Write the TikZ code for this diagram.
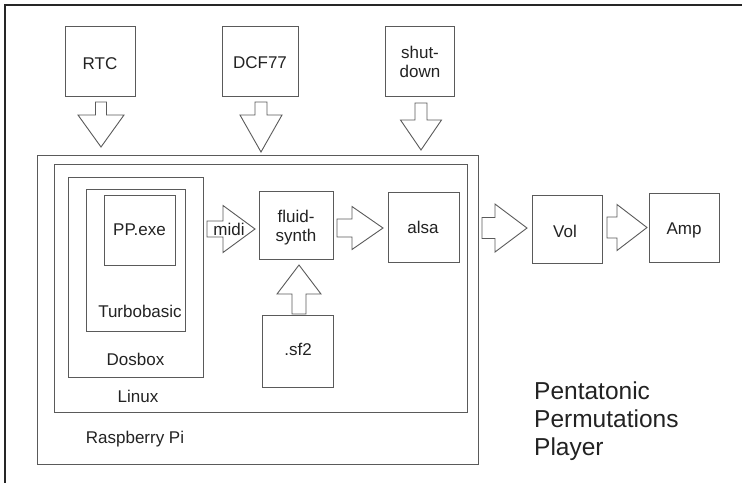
\documentclass[tikz,border=0pt]{standalone}
\usepackage{fontspec}
\setmainfont{Liberation Sans}
\definecolor{ln}{HTML}{5A5A5A}
\definecolor{tx}{HTML}{222222}
\tikzset{
  box/.style={draw=ln, line width=1pt, inner sep=0pt},
  lbl/.style={text=tx, inner sep=0pt, font=\fontsize{17}{19}\selectfont},
  blk/.style={draw=ln, line width=0.9pt, fill=white, line join=miter},
  frame/.style={draw=black!85, line width=1.5pt}
}
\newcommand{\rblk}[6]{\draw[blk] (#1,#4-#5) -- (#2,#4-#5) -- (#2,#4-#6) -- (#3,#4) -- (#2,#4+#6) -- (#2,#4+#5) -- (#1,#4+#5) -- cycle;}
\newcommand{\vblk}[6]{\draw[blk] (#1-#5,#2) -- (#1-#5,#3) -- (#1-#6,#3) -- (#1,#4) -- (#1+#6,#3) -- (#1+#5,#3) -- (#1+#5,#2) -- cycle;}
\begin{document}
\begin{tikzpicture}[x=1pt,y=-1pt]
\useasboundingbox (0,0) rectangle (742,483);
% outer frame (top and left only)
\draw[frame] (742,5) -- (5,5) -- (5,483);
% boxes
\node[box, minimum width=70pt, minimum height=70pt] (rtc) at (100,61) {};
\node[box, minimum width=76pt, minimum height=70pt] (dcf) at (260,61) {};
\node[box, minimum width=69pt, minimum height=70pt] (shut) at (419.5,61) {};
\node[box, minimum width=441pt, minimum height=309pt] (rpi) at (257.5,309.5) {};
\node[box, minimum width=413pt, minimum height=248pt] (linux) at (260.5,288) {};
\node[box, minimum width=135pt, minimum height=200pt] (dosbox) at (135.5,277) {};
\node[box, minimum width=99pt, minimum height=142pt] (turbo) at (135.5,260) {};
\node[box, minimum width=71pt, minimum height=70pt] (pp) at (139.5,230) {};
\node[box, minimum width=74pt, minimum height=68pt] (fluid) at (296,225) {};
\node[box, minimum width=71pt, minimum height=72pt] (sf2) at (297.5,351) {};
\node[box, minimum width=71pt, minimum height=70pt] (alsa) at (423.5,227) {};
\node[box, minimum width=70pt, minimum height=68pt] (vol) at (567,229) {};
\node[box, minimum width=70pt, minimum height=69pt] (amp) at (684,227.5) {};
% block arrows
\vblk{101}{102}{115}{147}{5.5}{23}
\vblk{261}{102}{115}{152}{6}{21}
\vblk{421}{103}{120}{150}{6}{20.5}
\vblk{299}{314}{294}{265}{7}{22}
\rblk{207}{223}{255}{229}{8}{23.5}
\rblk{337}{352}{383}{228}{9}{21.5}
\rblk{482}{495}{527}{228}{10.5}{24}
\rblk{607}{617}{647}{227.5}{10.5}{23}
% labels
\node[lbl, anchor=base] (tRTC) at (100,69) {RTC};
\node[lbl, anchor=base] (tDCF) at (260,68) {DCF77};
\node[lbl, align=center] (tShut) at (420,62) {shut-\\down};
\node[lbl, anchor=base] (tPP) at (139.5,235) {PP.exe};
\node[lbl, anchor=base] (tTurbo) at (140,317) {Turbobasic};
\node[lbl, anchor=base] (tDos) at (135.5,365) {Dosbox};
\node[lbl, anchor=base] (tLinux) at (138,402) {Linux};
\node[lbl, anchor=base] (tRpi) at (135,443) {Raspberry Pi};
\node[lbl, anchor=base] (tMidi) at (229,235) {midi};
\node[lbl, align=center] (tFluid) at (296,228) {fluid-\\synth};
\node[lbl, anchor=base] (tSf) at (298,355) {.sf2};
\node[lbl, anchor=base] (tAlsa) at (423,233) {alsa};
\node[lbl, anchor=base] (tVol) at (565,237) {Vol};
\node[lbl, anchor=base] (tAmp) at (684,234) {Amp};
\node[text=tx, inner sep=0pt, align=left, anchor=north west, font=\fontsize{24.5}{28}\selectfont] (title) at (534,381.5) {Pentatonic\\Permutations\\Player};
\end{tikzpicture}
\end{document}
